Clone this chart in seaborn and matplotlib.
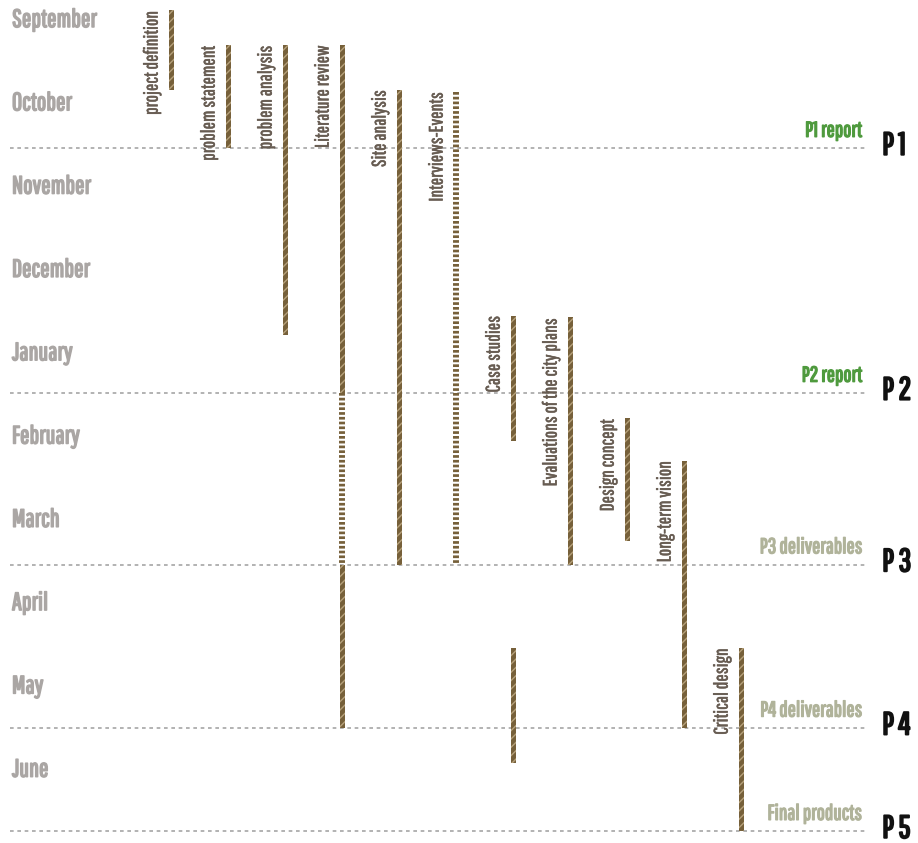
from matplotlib import pyplot as plt
from matplotlib import patheffects as pe
import seaborn as sns
import numpy as np

# =============================================================================
# data (time in months from 1 September)
# =============================================================================
months = ['September', 'October', 'November', 'December', 'January',
          'February', 'March', 'April', 'May', 'June']

tasks = ['project definition', 'problem statement', 'problem analysis',
         'Literature review', 'Site analysis', 'Interviews-Events',
         'Case studies', 'Evaluations of the city plans', 'Design concept',
         'Long-term vision', 'Critical design']

# one row per segment: task index, start, end, kind
seg_task = [0, 1, 2, 3, 3, 3, 4, 5, 6, 6, 7, 8, 9, 10]
seg_start = [0.38, 0.80, 0.80, 0.80, 4.98, 7.04, 1.34, 1.36, 4.05, 8.04, 4.07, 5.28, 5.79, 8.04]
seg_end = [1.34, 2.04, 4.28, 4.98, 7.04, 9.00, 7.04, 7.04, 5.55, 9.42, 7.04, 6.75, 9.00, 10.24]
seg_kind = ['work', 'work', 'work', 'work', 'ongoing', 'work', 'work', 'ongoing',
            'work', 'work', 'work', 'work', 'work', 'work']

ms_code = ['P 1', 'P 2', 'P 3', 'P 4', 'P 5']
ms_label = ['P1 report', 'P2 report', 'P3 deliverables', 'P4 deliverables', 'Final products']
ms_time = [2.04, 4.98, 7.04, 9.00, 10.24]

# =============================================================================
# style
# =============================================================================
sns.set_theme(style='white')
FONT = ['Pathway Gothic One', 'Antonio', 'DejaVu Sans']
plt.rcParams['font.family'] = FONT
plt.rcParams['hatch.linewidth'] = 1.0

BROWN = '#76603a'
STRIPE = '#b5a07a'
MONTH_C = '#aaa6a4'
TASK_C = '#675c52'
GREEN = '#4f9a3e'
OLIVE = '#b0b39a'
LINE_C = '#a6a6a6'


def bold(c, w=0.9):
    # fake a heavier weight, the font has only one
    return [pe.withStroke(linewidth=w, foreground=c)]


fig = plt.figure(figsize=(9.18, 8.43), dpi=100)
ax = fig.add_axes([0, 0, 1, 1])
ax.set_xlim(-3.005, 13.1)
ax.set_ylim(10.38, 0.26)
ax.axis('off')

# month labels
ytr = ax.get_yaxis_transform()
for i, m in enumerate(months):
    ax.text(0.013, i + 0.5, m, transform=ytr, ha='left', va='center',
            fontsize=18, color=MONTH_C, path_effects=bold(MONTH_C, 1.1))

# milestone lines
for code, lab, t, c in zip(ms_code, ms_label, ms_time,
                           [GREEN, GREEN, OLIVE, OLIVE, OLIVE]):
    ax.plot([0.011, 0.942], [t, t], transform=ytr, color=LINE_C, lw=1.2,
            ls=(0, (2.2, 2.2)), zorder=1)
    ax.text(0.939, t - 0.09, lab, transform=ytr, ha='right', va='bottom',
            fontsize=15.5, color=c, path_effects=bold(c, 1.0))
    ax.annotate(code, (0.961, t), xycoords=ytr, xytext=(0, 4),
                textcoords='offset points', ha='left', va='center_baseline',
                fontsize=23, color='#111111', path_effects=bold('#111111', 1.4))

# task segments
bw = 0.09
for ti, s, e, k in zip(seg_task, seg_start, seg_end, seg_kind):
    if k == 'work':
        ax.bar(ti, e - s, bottom=s, width=bw, color=BROWN, edgecolor=STRIPE,
               linewidth=0, hatch='////', zorder=3)
    else:
        ax.vlines(ti, s, e, color=BROWN, lw=4.3, linestyles=(0, (0.45, 0.35)),
                  zorder=3, capstyle='butt')

# task labels next to the first segment
seen = set()
for ti, s in zip(seg_task, seg_start):
    if ti in seen:
        continue
    seen.add(ti)
    ax.annotate(tasks[ti], (ti, s), xytext=(-7, 0), textcoords='offset points',
                rotation=90, ha='right', va='top', fontsize=14, color=TASK_C,
                path_effects=bold(TASK_C, 0.4))

fig.savefig('out.png', dpi=100)
